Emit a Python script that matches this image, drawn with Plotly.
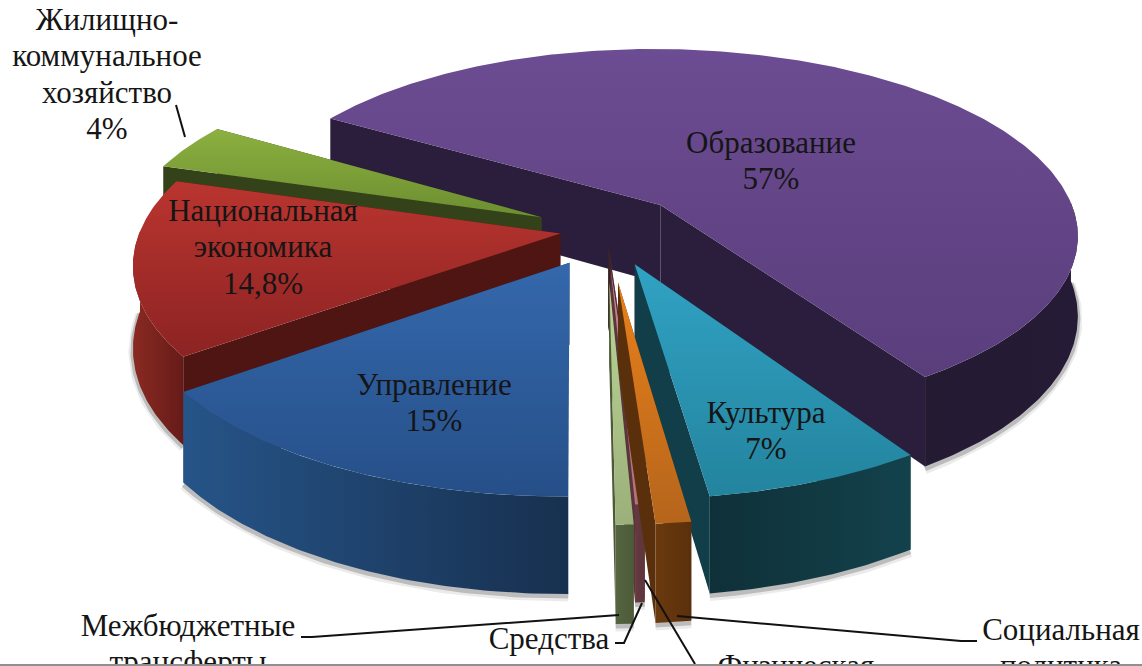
import numpy as np
import plotly.graph_objects as go

categories = ["Образование", "Культура", "Социальная политика", "Физическая культура",
              "Средства", "Межбюджетные трансферты", "Управление",
              "Национальная экономика", "Жилищно-коммунальное хозяйство"]
values = [57, 7, 1.1, 0.05, 0.3, 0.55, 15, 14.8, 4]
explode = [0.19, 0.19, 0.27, 0.08, 0.2, 0.27, 0.19, 0.11, 0.17]

# label text: (x centre, first line y, lines)
label_x = [771, 766, 1061, 796, 549, 188, 434, 263, 107]
label_y = [145, 415, 632, 668, 641, 628, 387, 213, 22]
label_lines = [["Образование", "57%"], ["Культура", "7%"], ["Социальная", "политика"], ["Физическая"],
               ["Средства"], ["Межбюджетные", "трансферты"], ["Управление", "15%"],
               ["Национальная", "экономика", "14,8%"], ["Жилищно-", "коммунальное", "хозяйство", "4%"]]
LINE = 36.5

leaders = [[(301, 637), (312, 637), (619, 615)], [(615, 643), (624, 643), (642, 603)],
           [(645, 580), (695, 664)], [(977, 641), (961, 641), (677, 616)],
           [(176, 105), (185, 137)]]

top_cols = [("#6c4c92", "#5a3e7c"), ("#31a2c4", "#23849e"), ("#e8801a", "#b5651c"), ("#8a5a60", "#8a5a60"),
            ("#c8858f", "#b0727c"), ("#bcd596", "#9bb07a"), ("#3468ac", "#264f88"), ("#ba352f", "#8c2323"), ("#8cb040", "#6c8e30")]
side_cols = [("#241a32", "#261b36"), ("#0f3038", "#13424c"), ("#6b3a0e", "#5a300c"), ("#4a2a2e", "#4a2a2e"),
             ("#66393f", "#5c353c"), ("#566540", "#4c5a38"), ("#265488", "#17304f"), ("#8a2a22", "#661b18"), ("#3c4d1c", "#33421a")]
cut_cols = ["#2b1e3c", "#113e48", "#5a300c", "#3a2226", "#5c353c", "#4c5a38", "#1c3c66", "#4e1512", "#34421a"]

CX, CY = 606, 230
A, B, H, K = 420, 187, 80, 0.153
START = -58.7


def proj(X, Y, Z):
    X, Y = np.asarray(X, float), np.asarray(Y, float)
    p = 1 / (1 - K * Y)
    return CX + A * X * p, CY + (B * Y + H * Z) * p


fracs = np.array(values) / sum(values)
edges = START + 360 * np.concatenate([[0], np.cumsum(fracs)])
slices = []
for i in range(len(values)):
    a0, a1 = edges[i], edges[i + 1]
    mid = np.radians((a0 + a1) / 2)
    ox, oy = explode[i] * np.sin(mid), -explode[i] * np.cos(mid)
    th = np.radians(np.linspace(a0, a1, max(4, int((a1 - a0) * 1.5))))
    X, Y = ox + np.sin(th), oy - np.cos(th)
    slices.append(dict(i=i, ox=ox, oy=oy, X=X, Y=Y, th=th, key=oy))


def poly(x, y, cols, kind="vertical"):
    if isinstance(cols, str):
        kw = dict(fillcolor=cols)
    elif kind == "vertical":
        kw = dict(fillgradient=dict(type="vertical", colorscale=[[0, cols[1]], [1, cols[0]]]))
    else:
        kw = dict(fillgradient=dict(type="horizontal", colorscale=[[0, cols[0]], [1, cols[1]]]))
    return go.Scatter(x=np.r_[x, x[0]], y=np.r_[y, y[0]], mode="lines", fill="toself",
                      line=dict(width=0), hoverinfo="skip", showlegend=False, **kw)


fig = go.Figure()
for s in sorted(slices, key=lambda d: d["key"]):
    i, ox, oy, X, Y, th = s["i"], s["ox"], s["oy"], s["X"], s["Y"], s["th"]
    front = np.cos(th) < 0.02
    xt, yt = proj(X, Y, 0)
    tx0, ty0 = proj(ox, oy, 0)
    # soft shadow
    if front.sum() > 1:
        xs, ys = proj(X[front], Y[front], 1)
        for w, c, d in [(9, "rgba(0,0,0,0.08)", 3), (5, "rgba(0,0,0,0.20)", 2)]:
            fig.add_trace(go.Scatter(x=xs, y=ys + d, mode="lines", line=dict(width=w, color=c),
                                     hoverinfo="skip", showlegend=False))
    for j in (0, -1):
        qx = [ox, X[j], X[j], ox]
        qy = [oy, Y[j], Y[j], oy]
        qz = [0, 0, 1, 1]
        p_ = [proj(a, b, c) for a, b, c in zip(qx, qy, qz)]
        fig.add_trace(poly(np.array([float(q[0]) for q in p_]), np.array([float(q[1]) for q in p_]), cut_cols[i]))
    if front.sum() > 1:
        xa, ya = proj(X[front], Y[front], 0)
        xb, yb = proj(X[front], Y[front], 1)
        fig.add_trace(poly(np.r_[xa, xb[::-1]], np.r_[ya, yb[::-1]], side_cols[i], "horizontal"))
    fig.add_trace(poly(np.r_[float(tx0), xt], np.r_[float(ty0), yt], top_cols[i]))

for pts in leaders:
    fig.add_trace(go.Scatter(x=[p[0] for p in pts], y=[p[1] for p in pts], mode="lines",
                             line=dict(color="#111111", width=2), hoverinfo="skip", showlegend=False))

tx, ty, tt = [], [], []
for x0, y0, lines in zip(label_x, label_y, label_lines):
    for n, line in enumerate(lines):
        tx.append(x0)
        ty.append(y0 + n * LINE)
        tt.append(line)
fig.add_trace(go.Scatter(x=tx, y=ty, mode="text", text=tt, textposition="middle center", hoverinfo="skip",
                         showlegend=False, textfont=dict(family="Liberation Serif", size=31, color="#151515")))

fig.update_layout(width=1142, height=666, margin=dict(l=0, r=0, t=0, b=2),
                  paper_bgcolor="#909090", plot_bgcolor="white",
                  xaxis=dict(range=[0, 1142], visible=False, fixedrange=True),
                  yaxis=dict(range=[664, 0], visible=False, fixedrange=True))
fig.write_html("out.html", config=dict(displayModeBar=False),
               post_script="document.body.style.margin='0';document.body.style.overflow='hidden';")
